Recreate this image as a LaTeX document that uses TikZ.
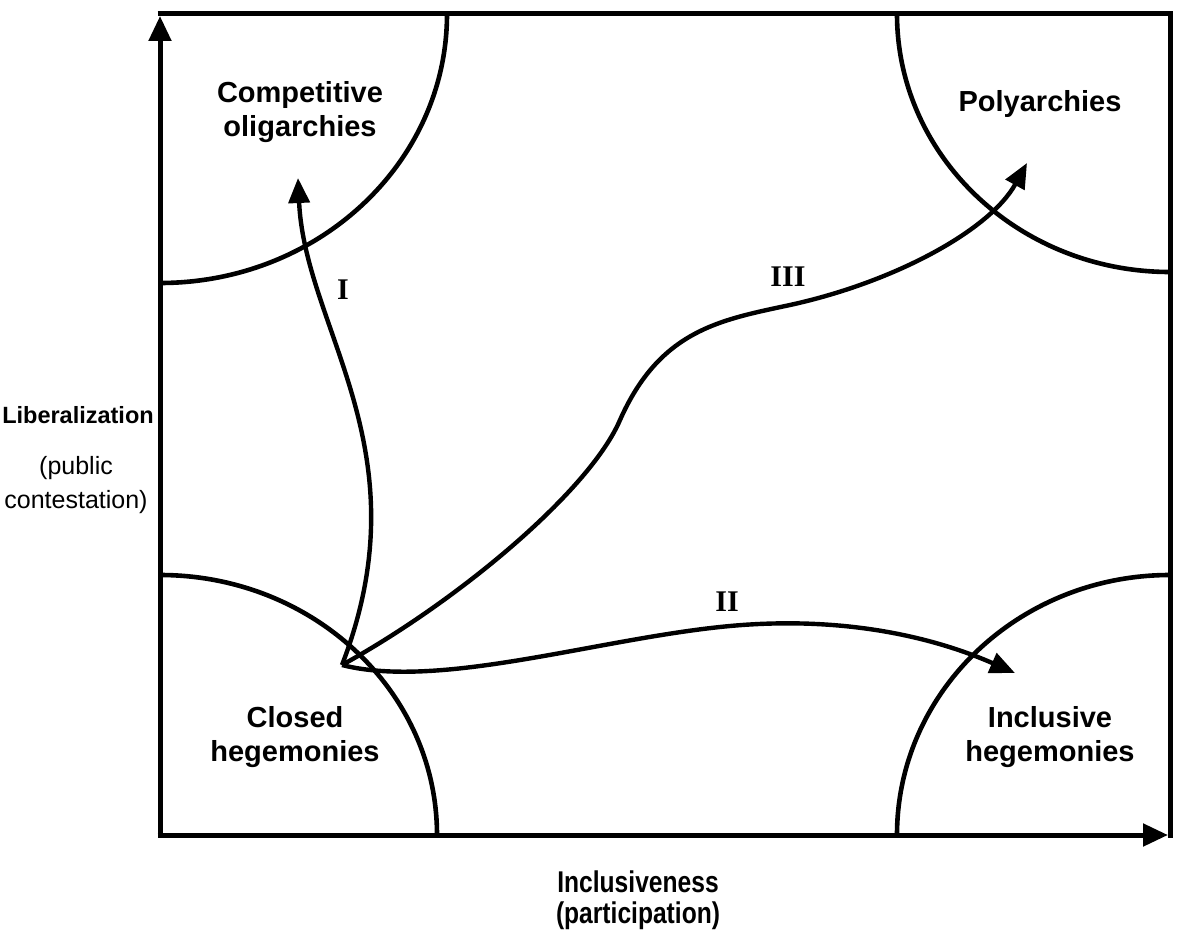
\documentclass[tikz,border=0pt]{standalone}
\usepackage{fontspec}
\setmainfont{Liberation Sans}
\newfontfamily\numfont{Liberation Serif}
\newfontfamily\condfont[FakeStretch=0.82]{Liberation Sans}
\usetikzlibrary{arrows.meta}
\begin{document}
\begin{tikzpicture}[x=1pt,y=-1pt,
  frame/.style={line width=5pt},
  arcline/.style={line width=4.6pt},
  curve/.style={line width=4.4pt, -{Triangle[length=25pt,width=21pt]}},
  axisarrow/.style={line width=5pt, -{Triangle[length=25pt,width=22pt]}},
  region/.style={font=\fontsize{29}{34}\selectfont\bfseries, align=center, inner sep=0pt},
  axislbl/.style={font=\fontsize{30}{31}\selectfont\condfont\bfseries, align=center, inner sep=0pt},
  sidelbl/.style={font=\fontsize{23.5}{29}\selectfont\bfseries, inner sep=0pt},
  axissub/.style={font=\fontsize{25}{34}\selectfont, align=center, inner sep=0pt},
  num/.style={font=\fontsize{30}{36}\selectfont\numfont\bfseries, inner sep=0pt}]
\useasboundingbox (0,0) rectangle (1181,942);
\fill[white] (0,0) rectangle (1181,942);

% corner regions
\begin{scope}
\clip (160,14) rectangle (1170,835);
\draw[arcline] (160,14) ellipse[x radius=287, y radius=269];
\draw[arcline] (1170,14) ellipse[x radius=273, y radius=258];
\draw[arcline] (160,835) ellipse[x radius=277, y radius=260];
\draw[arcline] (1170,835) ellipse[x radius=273, y radius=260];
\end{scope}

% frame and axes
\coordinate (TLc) at (157.5,14);
\coordinate (TRc) at (1170,14);
\coordinate (BRc) at (1170,837.5);
\coordinate (Ybot) at (160,837.5);
\coordinate (Ytop) at (160,16);
\coordinate (Xleft) at (157.5,835);
\coordinate (Xright) at (1168,835);
\draw[frame] (TLc) -- (TRc) -- (BRc);
\draw[axisarrow] (Ybot) -- (Ytop);
\draw[axisarrow] (Xleft) -- (Xright);

% paths
\coordinate (O) at (342,665);
\coordinate (T1) at (298,178);
\coordinate (P2) at (730,626);
\coordinate (T2) at (1015,673);
\coordinate (A3) at (620,420);
\coordinate (B3) at (790,305);
\coordinate (T3) at (1027,163);
\draw[curve] (O) .. controls (425,450) and (305,330) .. (T1);
\draw[curve] (O) .. controls (440,690) and (600,638) .. (P2)
                 .. controls (850,615) and (940,640) .. (T2);
\draw[curve] (O) .. controls (460,600) and (590,490) .. (A3)
                 .. controls (660,330) and (720,320) .. (B3)
                 .. controls (895,282) and (990,230) .. (T3);

% labels
\node[region] (co) at (300,112) {Competitive\\oligarchies};
\node[region, anchor=base] (poly) at (1040,111) {Polyarchies};
\node[region] (ch) at (295,737) {Closed\\hegemonies};
\node[region] (ih) at (1050,737) {Inclusive\\hegemonies};
\node[sidelbl, anchor=base] (lib) at (78,423) {Liberalization};
\node[axissub] (pc) at (76,485) {(public\\contestation)};
\node[axislbl] (inc) at (638,900) {Inclusiveness\\(participation)};
\node[num] (n1) at (343,290) {I};
\node[num] (n2) at (727,602) {II};
\node[num] (n3) at (788,277) {III};
\end{tikzpicture}
\end{document}
